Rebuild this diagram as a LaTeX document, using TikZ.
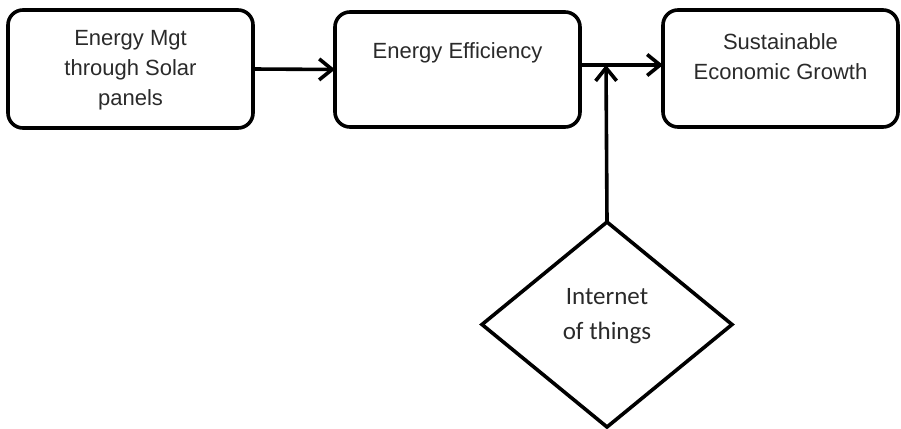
\documentclass[tikz,border=0pt]{standalone}
\usepackage{fontspec}
\setmainfont{Liberation Sans}
\newfontfamily\carlitofont{Carlito}
\usetikzlibrary{arrows.meta,shapes.geometric}
\definecolor{txt}{HTML}{2A2A2A}
\tikzset{
  box/.style={draw=black, line width=3.6pt, rounded corners=15pt, inner sep=0pt, outer sep=0pt},
  boxtext/.style={text=txt, align=center, inner sep=0pt, font=\fontsize{22}{30}\selectfont},
  arr/.style={draw=black, line width=3.6pt, -{Straight Barb[length=13pt,width=21pt,line width=3.6pt]}},
  dia/.style={draw=black, line width=3.6pt, diamond, inner sep=0pt, outer sep=0pt},
  diatext/.style={text=txt, align=center, inner sep=0pt, font=\carlitofont\fontsize{25}{35}\selectfont}
}
\begin{document}
\begin{tikzpicture}[x=1pt,y=-1pt]
\useasboundingbox (0,0) rectangle (901,428);
\node[box, minimum width=245pt, minimum height=118pt] (b1) at (130.5,69) {};
\node[box, minimum width=245pt, minimum height=115pt] (b2) at (457.5,69.5) {};
\node[box, minimum width=235pt, minimum height=117pt] (b3) at (780.5,68.5) {};
\node[dia, minimum width=250pt, minimum height=205pt] (iot) at (607,324.5) {};
\node[boxtext] (t1) at (130.5,70) {Energy Mgt\\through Solar\\panels};
\node[boxtext] (t2) at (457.5,53) {Energy Efficiency};
\node[boxtext] (t3) at (780.5,57) {Sustainable\\Economic Growth};
\node[diatext] (t4) at (607,316) {Internet\\of things};
\coordinate (j) at (606,65);
\draw[arr] (b1.east) -- (b2.west);
\draw[arr] (b2.east |- j) -- (b3.west |- j);
\draw[arr] (iot.north) -- (j);
\end{tikzpicture}
\end{document}
